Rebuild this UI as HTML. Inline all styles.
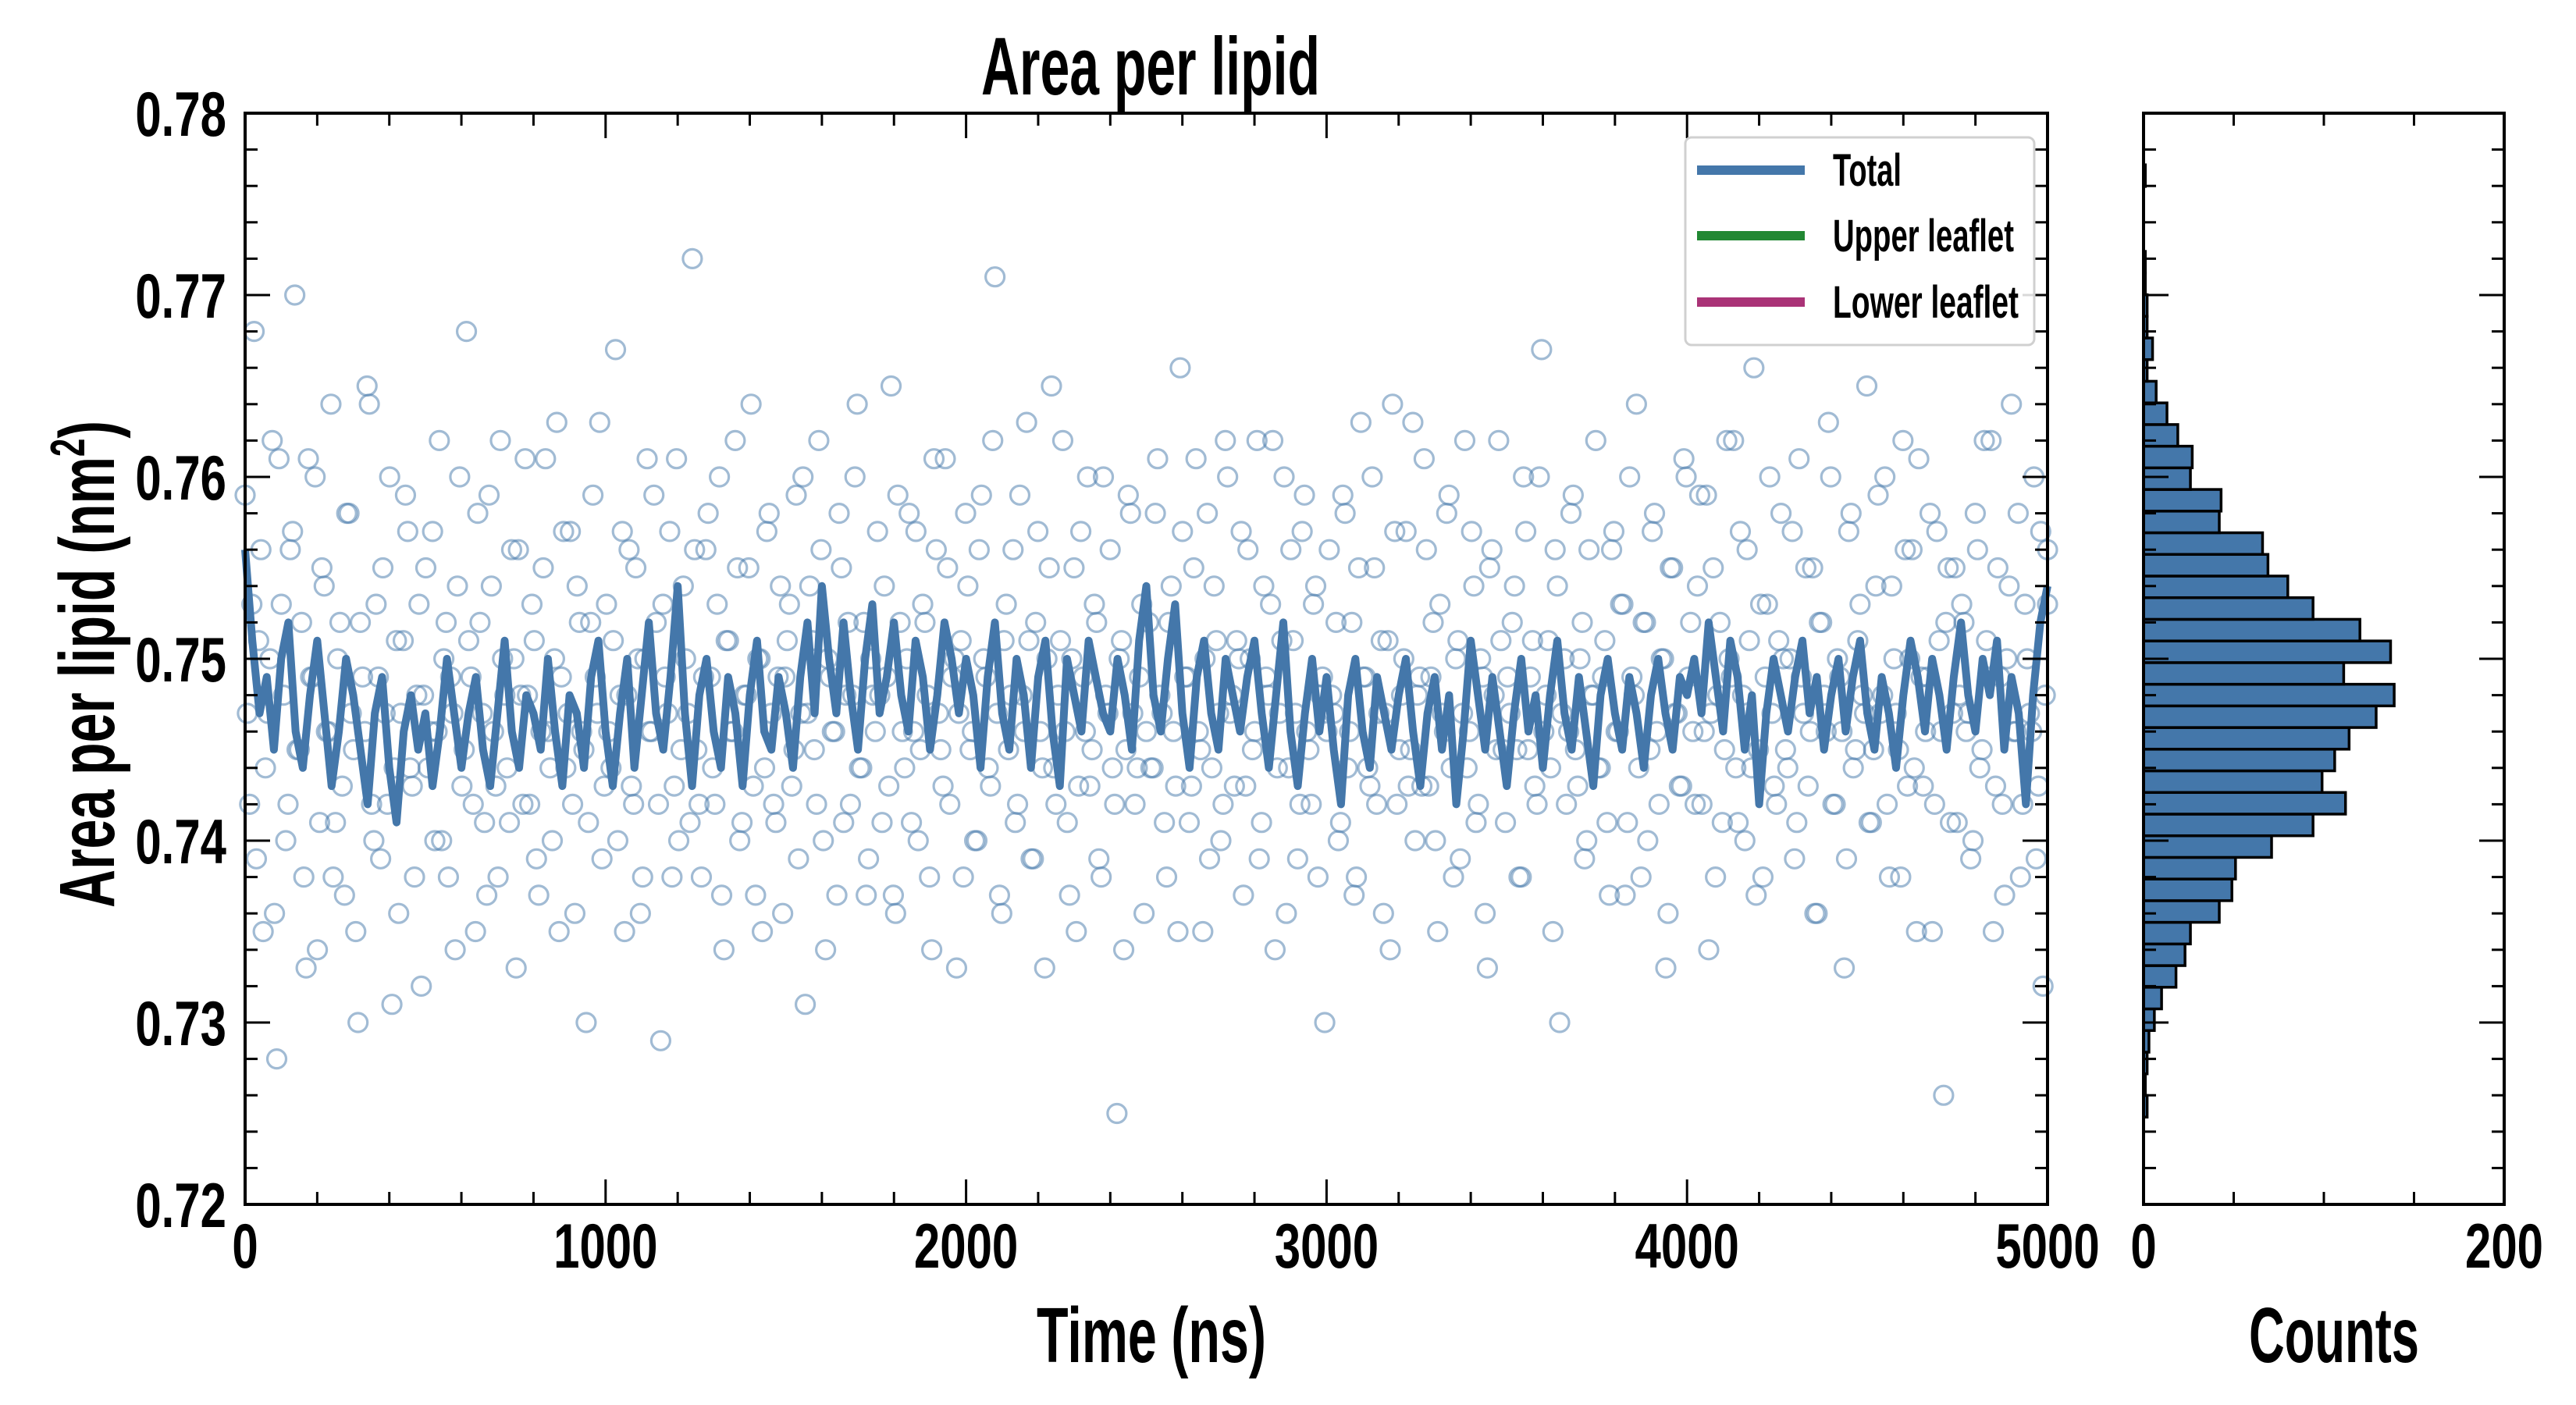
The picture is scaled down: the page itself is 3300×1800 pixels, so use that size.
<!DOCTYPE html>
<html><head><meta charset="utf-8"><style>
html,body{margin:0;padding:0;background:#fff;}
svg{display:block;}
text{font-family:"Liberation Sans",sans-serif;font-weight:bold;fill:#000;}
</style></head><body>
<svg id="chart" xmlns="http://www.w3.org/2000/svg" width="3300" height="1800" viewBox="0 0 3300 1800">
<rect width="3300" height="1800" fill="#fff"/>
<g id="scatter"></g>
<g id="line"></g>
<g id="hist"></g>
<g id="axes"></g>
<text x="1474" y="121" font-size="105" text-anchor="middle" textLength="434" lengthAdjust="spacingAndGlyphs">Area per lipid</text>
<text x="1475" y="1745" font-size="100" text-anchor="middle" textLength="294" lengthAdjust="spacingAndGlyphs">Time (ns)</text>
<text x="2990" y="1745" font-size="100" text-anchor="middle" textLength="218" lengthAdjust="spacingAndGlyphs">Counts</text>
<text transform="translate(146,851) rotate(-90)" font-size="100" text-anchor="middle" textLength="624" lengthAdjust="spacingAndGlyphs">Area per lipid (nm<tspan font-size="62" dy="-38">2</tspan><tspan dy="38">)</tspan></text>
<g>
<rect x="2159" y="176" width="447" height="266" rx="8" fill="#fff" fill-opacity="0.85" stroke="#d0d0d0" stroke-width="3"/>
<g><line x1="2174" y1="218" x2="2312" y2="218" stroke="#4477AA" stroke-width="12"/><text x="2348" y="238" font-size="58" textLength="88" lengthAdjust="spacingAndGlyphs">Total</text></g>
<g><line x1="2174" y1="302" x2="2312" y2="302" stroke="#228833" stroke-width="12"/><text x="2348" y="322" font-size="58" textLength="232" lengthAdjust="spacingAndGlyphs">Upper leaflet</text></g>
<g><line x1="2174" y1="387" x2="2312" y2="387" stroke="#AA3377" stroke-width="12"/><text x="2348" y="407" font-size="58" textLength="238" lengthAdjust="spacingAndGlyphs">Lower leaflet</text></g>
</g>
</svg>
<script>
// line series (Total), every 20 ns, value x1e-4 nm^2
const lineValues = [7560,7510,7470,7490,7450,7500,7520,7460,7440,7480,7510,7470,7430,7460,7500,7480,7450,7420,7470,7490,
7440,7410,7460,7480,7450,7470,7430,7460,7500,7470,7440,7470,7490,7450,7430,7470,7510,7460,7440,7480,
7470,7450,7500,7460,7430,7480,7470,7440,7490,7510,7460,7430,7470,7500,7440,7480,7520,7470,7450,7490,
7540,7470,7430,7480,7500,7460,7440,7490,7470,7430,7480,7510,7460,7450,7490,7470,7440,7490,7520,7470,
7540,7500,7470,7520,7480,7450,7500,7530,7470,7490,7520,7480,7460,7510,7490,7450,7480,7520,7500,7470,
7500,7480,7440,7490,7520,7470,7450,7500,7480,7440,7490,7510,7460,7430,7500,7480,7460,7510,7490,7470,
7460,7500,7480,7450,7510,7540,7480,7460,7500,7530,7470,7440,7490,7510,7470,7450,7500,7480,7460,7490,
7510,7470,7440,7480,7520,7460,7430,7470,7500,7460,7490,7450,7420,7480,7500,7460,7440,7490,7470,7450,
7480,7500,7460,7430,7470,7490,7450,7480,7420,7460,7510,7480,7450,7490,7460,7430,7470,7500,7460,7480,
7440,7480,7510,7470,7450,7490,7460,7430,7480,7500,7470,7450,7490,7470,7440,7480,7500,7470,7450,7490,
7480,7500,7470,7520,7490,7460,7510,7490,7450,7480,7420,7470,7500,7480,7460,7490,7510,7470,7490,7450,
7480,7500,7460,7490,7510,7470,7450,7490,7470,7440,7480,7510,7490,7460,7500,7480,7450,7490,7520,7480,
7460,7500,7480,7510,7450,7490,7470,7420,7480,7520,7540];
// raw per-frame scatter values, x1e-4 nm^2
const scatterValues = [7590,7420,7680,7510,7350,7470,7620,7280,7530,7400,7560,7700,7450,7380,7610,7490,7340,7550,7460,7640,
7410,7520,7370,7580,7450,7300,7490,7650,7420,7530,7390,7470,7600,7440,7360,7510,7570,7430,7480,7320,
7550,7460,7400,7620,7500,7380,7470,7540,7430,7680,7490,7350,7520,7410,7590,7460,7380,7500,7440,7560,
7330,7480,7610,7420,7510,7370,7550,7460,7400,7630,7490,7440,7570,7360,7520,7450,7410,7590,7470,7390,
7530,7440,7670,7480,7350,7560,7420,7500,7380,7610,7460,7520,7290,7490,7570,7430,7400,7540,7470,7720,
7450,7380,7560,7490,7420,7600,7340,7510,7460,7550,7410,7480,7640,7370,7500,7440,7580,7420,7490,7360,
7510,7430,7590,7470,7310,7540,7450,7620,7400,7500,7460,7370,7550,7480,7420,7600,7440,7520,7390,7480,
7570,7410,7490,7650,7360,7520,7440,7580,7460,7400,7530,7480,7340,7560,7450,7610,7420,7500,7470,7380,
7540,7460,7400,7590,7490,7430,7710,7370,7510,7450,7560,7420,7480,7630,7390,7520,7460,7330,7550,7440,
7480,7620,7410,7500,7350,7570,7460,7430,7530,7390,7600,7470,7440,7250,7510,7450,7580,7420,7490,7360,
7520,7440,7610,7470,7380,7540,7430,7660,7490,7410,7550,7460,7350,7580,7440,7510,7400,7620,7470,7430,
7500,7370,7560,7450,7620,7410,7490,7530,7340,7470,7600,7440,7510,7390,7570,7460,7420,7540,7480,7300,
7560,7470,7400,7590,7440,7520,7380,7630,7490,7430,7550,7470,7360,7510,7640,7420,7480,7570,7450,7400,
7490,7610,7430,7520,7350,7470,7580,7440,7500,7390,7620,7460,7540,7420,7490,7330,7560,7450,7510,7410,
7470,7540,7380,7600,7450,7510,7420,7670,7480,7440,7560,7300,7500,7460,7590,7430,7520,7400,7480,7620,
7440,7510,7370,7570,7460,7530,7410,7490,7640,7380,7520,7450,7580,7420,7500,7360,7550,7470,7430,7600,
7520,7420,7590,7460,7340,7550,7480,7410,7620,7490,7440,7570,7400,7510,7660,7450,7380,7530,7470,7420,
7580,7450,7500,7390,7610,7470,7430,7550,7360,7520,7460,7600,7420,7490,7330,7570,7440,7510,7480,7650,
7410,7540,7470,7600,7380,7500,7450,7620,7430,7560,7350,7490,7460,7580,7420,7510,7260,7550,7470,7410,
7530,7460,7390,7580,7440,7620,7490,7350,7550,7420,7500,7640,7460,7380,7530,7470,7600,7430,7320,7560];
// second block of per-frame values (interleaved frames)
const scatterValues2 = [7470,7530,7390,7560,7440,7500,7360,7610,7480,7420,7570,7450,7520,7330,7490,7600,7410,7540,7460,7380,
7500,7430,7580,7470,7350,7520,7460,7640,7400,7490,7550,7420,7310,7510,7470,7590,7440,7380,7530,7480,
7440,7570,7460,7400,7520,7490,7340,7600,7450,7510,7420,7580,7470,7370,7540,7430,7620,7480,7410,7500,
7560,7420,7480,7530,7390,7460,7610,7440,7500,7350,7570,7470,7420,7540,7460,7300,7520,7490,7630,7430,
7460,7510,7400,7570,7480,7430,7550,7360,7500,7460,7590,7420,7530,7470,7380,7610,7450,7500,7410,7560,
7420,7490,7580,7440,7530,7370,7510,7460,7620,7400,7480,7550,7430,7500,7350,7570,7470,7410,7540,7490,
7530,7450,7390,7600,7470,7510,7420,7560,7340,7490,7460,7580,7410,7520,7480,7640,7440,7370,7500,7460,
7480,7540,7430,7370,7590,7460,7500,7410,7570,7450,7520,7380,7610,7470,7430,7550,7490,7330,7510,7580,
7450,7400,7560,7500,7440,7620,7470,7360,7530,7480,7410,7590,7460,7510,7390,7570,7440,7500,7650,7420,
7510,7460,7370,7550,7430,7490,7600,7450,7520,7380,7480,7560,7420,7500,7340,7590,7470,7440,7530,7460,
7440,7580,7480,7410,7520,7460,7350,7570,7490,7430,7610,7450,7500,7390,7540,7470,7420,7600,7480,7510,
7570,7430,7500,7460,7390,7540,7480,7620,7440,7510,7360,7560,7470,7420,7590,7450,7530,7380,7490,7460,
7480,7520,7410,7580,7460,7370,7550,7490,7440,7600,7420,7510,7470,7340,7570,7450,7500,7430,7630,7480,
7430,7560,7490,7400,7530,7460,7590,7380,7510,7470,7440,7570,7410,7500,7360,7550,7480,7620,7450,7490,
7520,7450,7380,7570,7490,7430,7600,7460,7510,7350,7540,7470,7420,7580,7450,7500,7390,7560,7480,7440,
7490,7410,7560,7460,7530,7370,7600,7480,7440,7520,7400,7570,7460,7500,7330,7550,7470,7430,7610,7490,
7460,7540,7420,7590,7470,7380,7520,7450,7500,7620,7410,7480,7560,7440,7370,7530,7490,7600,7430,7510,
7500,7440,7570,7410,7490,7550,7460,7360,7520,7480,7630,7420,7500,7460,7390,7580,7450,7530,7470,7410,
7450,7590,7480,7420,7540,7470,7380,7560,7500,7440,7610,7430,7490,7350,7570,7460,7520,7410,7550,7480,
7520,7470,7400,7560,7450,7510,7620,7430,7490,7370,7540,7460,7580,7420,7500,7460,7390,7570,7480,7530];
// histogram counts from lowest bin upward
const histCounts = [2,1,2,3,6,10,18,23,26,42,49,51,71,94,112,99,106,114,129,139,111,137,120,94,80,69,66,42,43,26,27,19,13,7,2,5,2,2,1,1,0,0,0,1];
const histLo = 0.7248, histBinWidth = 0.00119;
const tMax = 5000;
const xTickLabels = ["0","1000","2000","3000","4000","5000"];
const yTickLabels = ["0.72","0.73","0.74","0.75","0.76","0.77","0.78"];
const histTickLabels = ["0","200"];

const NS="http://www.w3.org/2000/svg";
const L=314,R=2623,T=145,B=1543,HL=2746,HR=3208;
const xs=t=>L+(t/tMax)*(R-L);
const ys=v=>B-(v-0.72)/0.06*(B-T);
const hx=c=>HL+(c/200)*(HR-HL);
function mk(tag,attrs,parent){const e=document.createElementNS(NS,tag);for(const k in attrs)e.setAttribute(k,attrs[k]);parent.appendChild(e);return e;}

const sg=document.getElementById('scatter');
const nS=scatterValues.length;
function drawScatter(arr,offset){
  arr.forEach((v,i)=>{
    const t=Math.min(tMax,(i+offset)*tMax/(nS-1));
    const c=mk('circle',{cx:xs(t),cy:ys(v/10000),r:12,fill:'none',stroke:'#4477AA','stroke-opacity':0.5,'stroke-width':3.2},sg);
    
    
  });
}
drawScatter(scatterValues,0);
drawScatter(scatterValues2,0.5);

const lg=document.getElementById('line');
const pts=lineValues.map((v,i)=>xs(i*tMax/(lineValues.length-1)).toFixed(1)+','+ys(v/10000).toFixed(1)).join(' ');
const pl=mk('polyline',{points:pts,fill:'none',stroke:'#4477AA','stroke-width':10,'stroke-linejoin':'round'},lg);



const hg=document.getElementById('hist');
histCounts.forEach((c,i)=>{
  const y1=ys(histLo+i*histBinWidth), y2=ys(histLo+(i+1)*histBinWidth);
  const r=mk('rect',{x:HL,y:y2,width:Math.max(hx(c)-HL,0.01),height:y1-y2,fill:'#4477AA',stroke:'#000','stroke-width':3.5},hg);
  
  
});

const ag=document.getElementById('axes');
function frame(x0,x1){mk('rect',{x:x0,y:T,width:x1-x0,height:B-T,fill:'none',stroke:'#000','stroke-width':4},ag);}
frame(L,R);frame(HL,HR);
function tick(x1,y1,x2,y2){mk('line',{x1,y1,x2,y2,stroke:'#000','stroke-width':3},ag);}
for(let k=0;k<=30;k++){
  const y=ys(0.72+k*0.002), len=(k%5===0)?32:16;
  [[L,R],[HL,HR]].forEach(([a,b])=>{tick(a,y,a+len,y);tick(b,y,b-len,y);});
}
for(let k=0;k<=25;k++){
  const x=xs(k*200), len=(k%5===0)?32:16;
  tick(x,B,x,B-len);tick(x,T,x,T+len);
}
for(let k=0;k<=4;k++){
  const x=hx(k*50), len=(k%4===0)?32:16;
  tick(x,B,x,B-len);tick(x,T,x,T+len);
}
function label(txt,x,y,anchor,name){
  const t=mk('text',{x:0,y:0,'font-size':81,'text-anchor':anchor,transform:`translate(${x},${y}) scale(0.74,1)`},ag);
  t.textContent=txt;
  
  
}
yTickLabels.forEach((s,i)=>label(s,290,ys(parseFloat(s))+29,'end','y-tick-label'));
xTickLabels.forEach(s=>label(s,xs(parseFloat(s)),1624,'middle','x-tick-label'));
histTickLabels.forEach(s=>label(s,hx(parseFloat(s)),1624,'middle','hist-x-tick-label'));
</script>
</body></html>
